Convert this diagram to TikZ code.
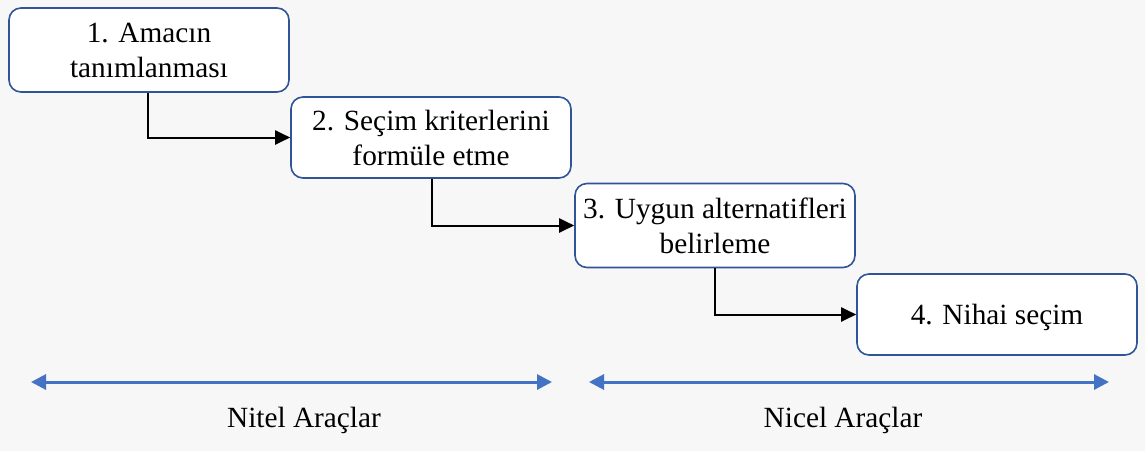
\documentclass[tikz,border=0pt]{standalone}
\usepackage{fontspec}
\setmainfont{Liberation Serif}
\usetikzlibrary{arrows.meta}
\definecolor{pagebg}{HTML}{F7F7F7}
\definecolor{boxline}{HTML}{2F5597}
\definecolor{rangeblue}{HTML}{4472C4}
\begin{document}
\begin{tikzpicture}[x=1pt,y=-1pt,
  stepbox/.style={draw=boxline,line width=1.6pt,fill=white,rounded corners=12pt,
    minimum width=280pt,minimum height=84pt,inner sep=0pt,align=center,
    font=\fontsize{29.3}{35}\selectfont},
  flow/.style={draw=black,line width=2pt,-{Triangle[length=15pt,width=14pt]}},
  toolspan/.style={draw=rangeblue,line width=3pt,{Triangle[length=15pt,width=15pt]}-{Triangle[length=15pt,width=15pt]}},
  spanlabel/.style={font=\fontsize{29.3}{35}\selectfont,anchor=base}]
  % page
  \fill[pagebg] (0,0) rectangle (1145,451);
  \useasboundingbox (0,0) rectangle (1145,451);
  % process steps
  \node[stepbox] (s1) at (149,50)  {1. Amacın\\tanımlanması};
  \node[stepbox,minimum height=81pt] (s2) at (431,137.5) {2. Seçim kriterlerini\\formüle etme};
  \node[stepbox] (s3) at (715,225.5) {3. Uygun alternatifleri\\belirleme};
  \node[stepbox,minimum height=81pt,text depth=0pt] (s4) at (997,314.5) {4. Nihai seçim};
  % elbow connectors
  \draw[flow] (s1.south -| 148,0) |- (s2.west);
  \draw[flow] (s2.south -| 432,0) |- (s3.west);
  \draw[flow] (s3.south -| 715,0) |- (s4.west);
  % tool ranges
  \coordinate (q1) at (31,382);
  \coordinate (q2) at (552,382);
  \coordinate (n1) at (589,382);
  \coordinate (n2) at (1109,382);
  \draw[toolspan] (q1) -- (q2);
  \draw[toolspan] (n1) -- (n2);
  \node[spanlabel] (lq) at (304,427.5) {Nitel Araçlar};
  \node[spanlabel] (ln) at (843,427.5) {Nicel Araçlar};
\end{tikzpicture}
\end{document}
